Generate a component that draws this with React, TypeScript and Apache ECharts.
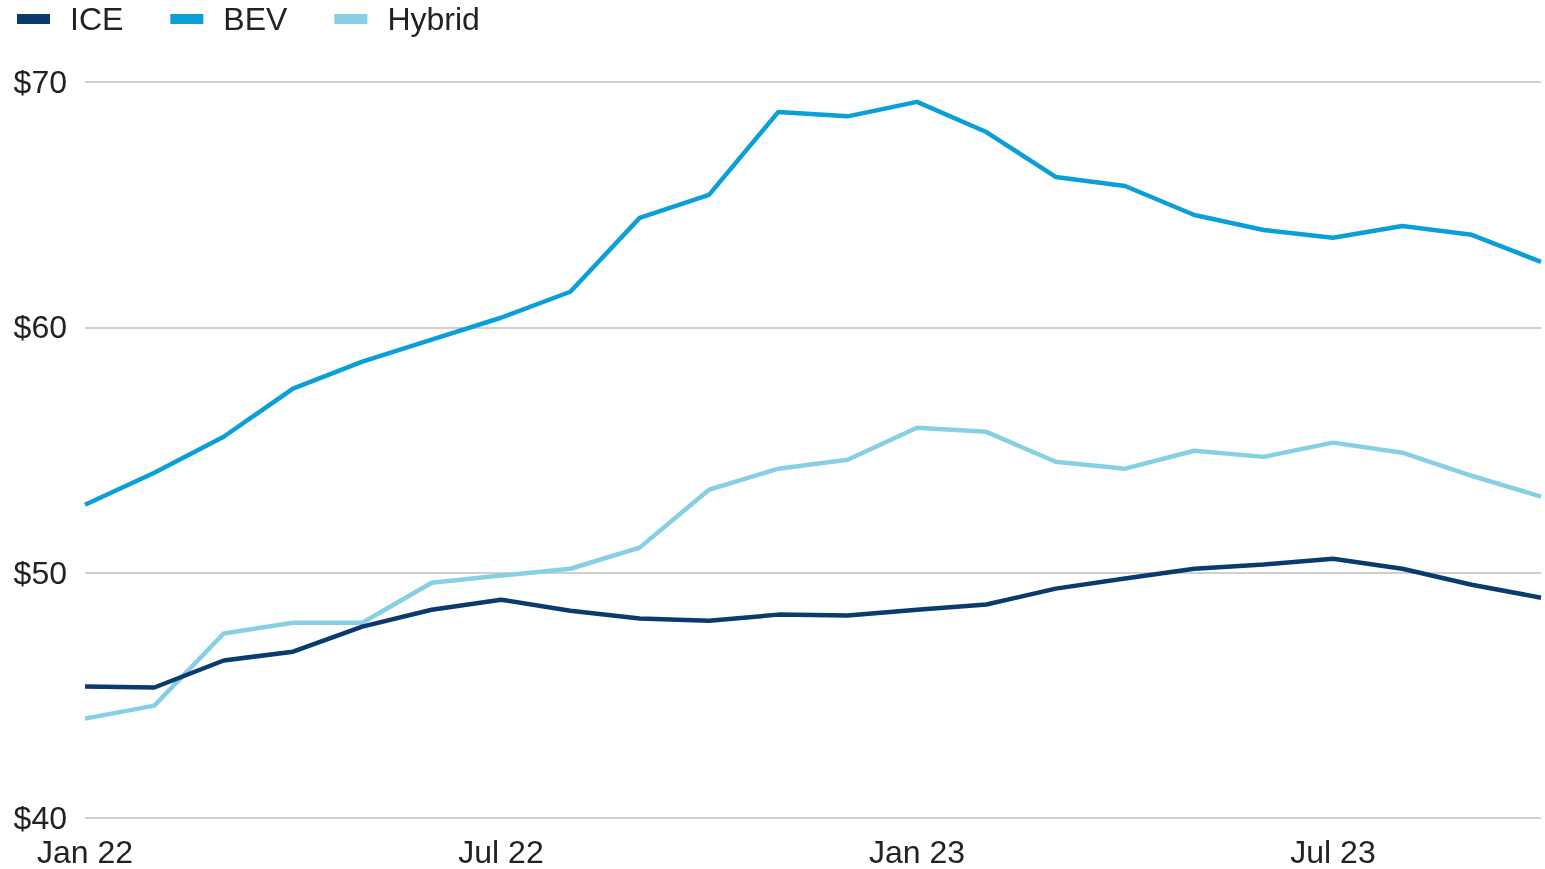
import React, { useEffect, useRef } from "react";
import * as echarts from "echarts";

const months = [
  "Jan 22", "Feb 22", "Mar 22", "Apr 22", "May 22", "Jun 22", "Jul 22", "Aug 22", "Sep 22", "Oct 22", "Nov 22", "Dec 22",
  "Jan 23", "Feb 23", "Mar 23", "Apr 23", "May 23", "Jun 23", "Jul 23", "Aug 23", "Sep 23", "Oct 23",
];
const iceValues = [45.36, 45.32, 46.42, 46.78, 47.8, 48.49, 48.9, 48.45, 48.13, 48.04, 48.29, 48.25, 48.49, 48.7, 49.35, 49.76, 50.16, 50.33, 50.57, 50.16, 49.51, 48.98];
const bevValues = [52.77, 54.07, 55.54, 57.5, 58.6, 59.5, 60.39, 61.45, 64.46, 65.4, 68.78, 68.6, 69.19, 67.96, 66.13, 65.76, 64.58, 63.97, 63.65, 64.13, 63.77, 62.67];
const hybridValues = [44.05, 44.58, 47.52, 47.96, 47.96, 49.59, 49.88, 50.16, 51.02, 53.38, 54.24, 54.6, 55.91, 55.74, 54.52, 54.24, 54.97, 54.72, 55.3, 54.89, 53.95, 53.1];
const seriesNames = ["ICE", "BEV", "Hybrid"];
const colors = ["#0b3a6f", "#0a9fd9", "#86cfe5"];

export default function App() {
  const ref = useRef<HTMLDivElement>(null);
  useEffect(() => {
    if (!ref.current) return;
    const chart = echarts.init(ref.current, null, { renderer: "svg" });
    const font = "'Liberation Sans', Arial, sans-serif";
    const data = [iceValues, bevValues, hybridValues];
    chart.setOption({
      animation: false,
      color: colors,
      textStyle: { fontFamily: font },
      legend: {
        left: 17,
        top: 3,
        padding: 0,
        itemWidth: 33,
        itemHeight: 10,
        itemGap: 47,
        icon: "rect",
        data: seriesNames,
        textStyle: { fontSize: 32, color: "#222", fontFamily: font, padding: [0, 0, 0, 15] },
      },
      grid: { left: 85, right: 4, top: 82, bottom: 51, containLabel: false },
      xAxis: {
        type: "category",
        data: months,
        boundaryGap: false,
        axisLine: { show: false },
        axisTick: { show: false },
        axisLabel: { interval: 5, fontSize: 32, color: "#222", margin: 18, fontFamily: font },
        splitLine: { show: false },
      },
      yAxis: {
        type: "value",
        min: 40,
        max: 70,
        interval: 10,
        axisLine: { show: false },
        axisTick: { show: false },
        axisLabel: { fontSize: 32, color: "#222", margin: 18, fontFamily: font, formatter: (v: number) => "$" + v },
        splitLine: { lineStyle: { color: "#cfcfcf", width: 2 } },
      },
      series: seriesNames.map((name, i) => ({
        name,
        type: "line",
        data: data[i],
        symbol: "none",
        lineStyle: { width: 4.5, color: colors[i] },
        itemStyle: { color: colors[i] },
        z: i === 0 ? 4 : i === 2 ? 3 : 2,
      })),
    });
    return () => chart.dispose();
  }, []);
  return <div ref={ref} style={{ position: "fixed", left: 0, top: 0, width: 1545, height: 869 }} />;
}
